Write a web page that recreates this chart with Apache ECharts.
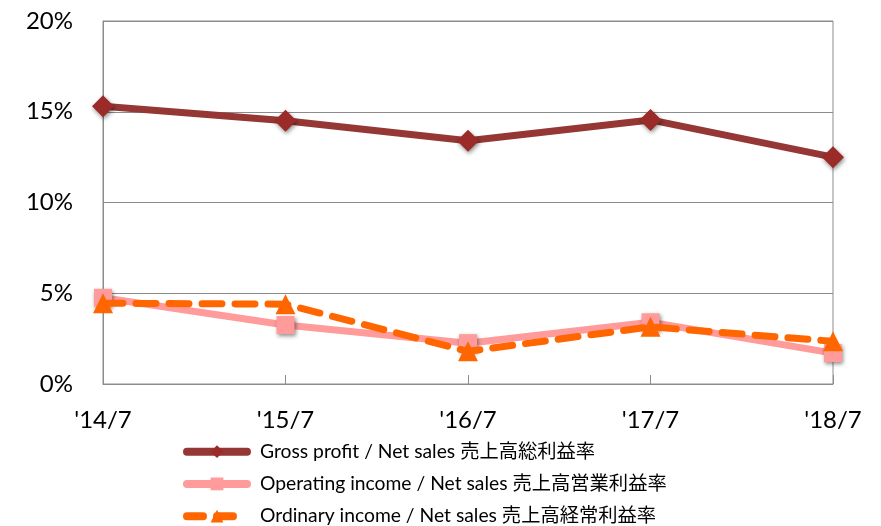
<!DOCTYPE html>
<html><head><meta charset="utf-8">
<script src="https://cdn.jsdelivr.net/npm/echarts@6/dist/echarts.min.js"></script>
<style>html,body{margin:0;padding:0;background:#fff}#c{width:881px;height:526px}</style>
</head><body><div id="c"></div>
<script>
const categories = ["'14/7", "'15/7", "'16/7", "'17/7", "'18/7"];
const grossMargin = [15.3, 14.5, 13.4, 14.55, 12.5];
const operatingMargin = [4.75, 3.25, 2.25, 3.4, 1.7];
const ordinaryMargin = [4.45, 4.4, 1.8, 3.15, 2.35];
const seriesNames = [
  "Gross profit / Net sales 売上高総利益率",
  "Operating income / Net sales 売上高営業利益率",
  "Ordinary income / Net sales 売上高経常利益率"
];
const yTicks = [0, 5, 10, 15, 20];

const font = "Lato, 'Noto Sans CJK JP', sans-serif";
const shadow = {shadowBlur: 4, shadowColor: 'rgba(0,0,0,0.45)', shadowOffsetY: 2, shadowOffsetX: 1};
const chart = echarts.init(document.getElementById('c'));
chart.setOption({
  animation: false,
  grid: {left: 103, right: 48, top: 21, bottom: 142, show: true, borderColor: '#8c8c8c', borderWidth: 1, backgroundColor: 'transparent'},
  xAxis: {
    type: 'category', data: categories, boundaryGap: false,
    axisLine: {lineStyle: {color: '#8c8c8c', width: 1}},
    axisTick: {show: true, inside: true, length: 9, lineStyle: {color: '#8c8c8c'}},
    axisLabel: {color: '#000', fontSize: 24, fontFamily: font, margin: 24},
    splitLine: {show: false}
  },
  yAxis: {
    type: 'value', min: yTicks[0], max: yTicks[yTicks.length-1], interval: 5,
    axisLine: {show: true, lineStyle: {color: '#8c8c8c'}},
    axisTick: {show: false},
    axisLabel: {color: '#000', fontSize: 24, fontFamily: font, margin: 30, formatter: v => v + '%'},
    splitLine: {lineStyle: {color: '#8c8c8c', width: 1}}
  },
  legend: {
    orient: 'vertical', left: 178, top: 437, height: 110, itemGap: 13,
    itemWidth: 60, itemHeight: 16,
    textStyle: {color: '#000', fontSize: 19.3, fontFamily: font, padding: [0, 0, 0, 8]},
    data: [
      {name: seriesNames[0], lineStyle: {width: 8, cap: 'round'}, itemStyle: {shadowBlur: 0}},
      {name: seriesNames[1], lineStyle: {width: 8, cap: 'round'}, itemStyle: {shadowBlur: 0}},
      {name: seriesNames[2], lineStyle: {width: 8, cap: 'round', type: [16, 14]}}
    ]
  },
  series: [
    {name: seriesNames[0], type: 'line', data: grossMargin, symbol: 'diamond', symbolSize: 22,
     lineStyle: {color: '#953735', width: 7}, itemStyle: Object.assign({color: '#9a2b29'}, shadow), z: 3},
    {name: seriesNames[1], type: 'line', data: operatingMargin, symbol: 'rect', symbolSize: 18,
     lineStyle: {color: '#ff9b9b', width: 7}, itemStyle: Object.assign({color: '#ff9b9b'}, shadow), z: 2},
    {name: seriesNames[2], type: 'line', data: ordinaryMargin, symbol: 'triangle', symbolSize: 20,
     lineStyle: {color: '#ff6600', width: 7, type: [20, 13], cap: 'round'}, itemStyle: {color: '#ff6600'}, z: 4}
  ]
});
</script></body></html>
